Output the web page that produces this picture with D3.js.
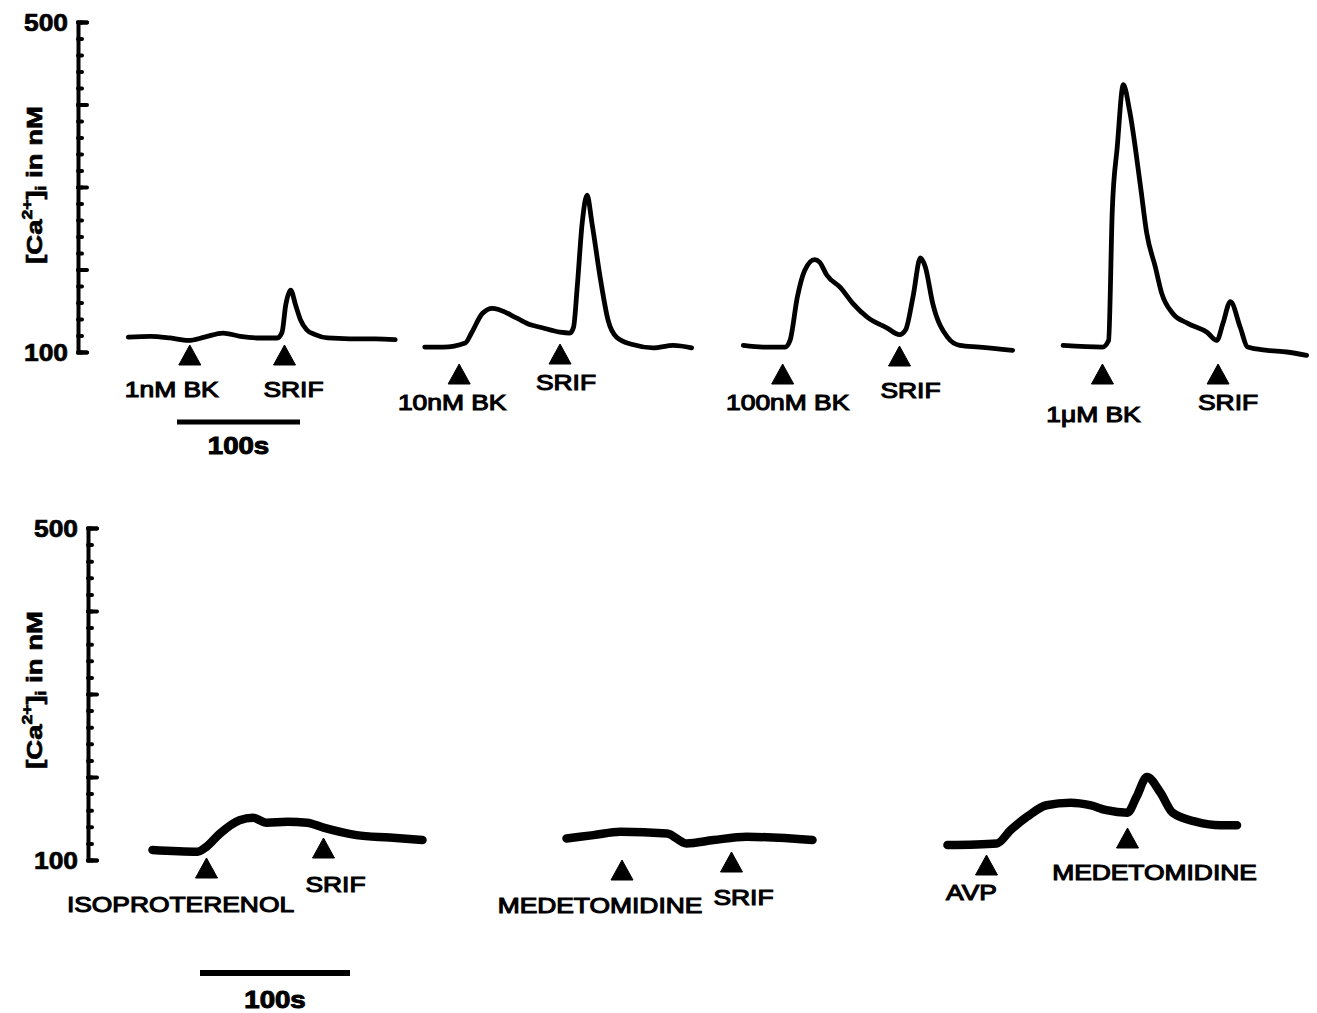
<!DOCTYPE html>
<html>
<head>
<meta charset="utf-8">
<script src="https://cdn.jsdelivr.net/npm/d3@7"></script>
<style>
  body { margin: 0; background: #fff; }
  svg { display: block; }
  text { font-family: Arial, "Liberation Sans", Helvetica, sans-serif; fill: #000; }
</style>
</head>
<body>
<svg id="chart" width="1317" height="1013"></svg>
<script>
// ---- data: traces as [time (s), [Ca2+]i (nM)] ----
var traceBk1 = [[23,118],[41,119],[57,117],[72,114],[85,118],[100,123],[114,119],[130,117],[144,117],
  [148,124],[151,157],[155,175],[159,157],[163,139],[168,127],[175,121],[185,117],[203,116],[224,116],[240,115]];
var traceBk10 = [[264,106],[279,106],[297,111],[302,123],[311,147],[319,153],[325,151],[339,141],[350,133],
  [358,130],[374,124],[382,123],[385,130],[388,179],[392,256],[396,290],[400,256],[407,187],[413,139],
  [420,118],[433,109],[450,105],[466,108],[481,105]];
var traceBk100 = [[523,108],[539,106],[557,106],[561,114],[567,167],[573,199],[581,212],[585,209],[591,193],
  [602,178],[612,159],[624,142],[640,129],[650,121],[655,127],[661,167],[667,214],[671,203],[677,159],
  [689,118],[699,108],[715,106],[742,102]];
var traceBk1000 = [[783,108],[815,106],[820,114],[823,272],[827,348],[832,424],[837,393],[846,300],[851,244],
  [858,203],[863,172],[872,147],[884,135],[900,124],[908,114],[913,135],[919,161],[927,130],[933,106],
  [949,102],[965,100],[981,96]];

var traceIso = [[35,112],[65,110],[71,116],[80,132],[93,148],[102,151],[111,145],[125,146],[138,145],
  [149,139],[171,130],[193,127],[215,124]];
var traceMed = [[311,126],[329,130],[347,134],[378,132],[391,120],[409,124],[431,128],[475,124]];
var traceAvp = [[565,118],[598,120],[607,136],[618,152],[631,166],[647,169],[660,166],[671,160],[685,157],
  [691,176],[698,200],[707,181],[715,157],[731,146],[747,142],[758,142]];

// stimulus markers (label + time of addition, s)
var topLabels = ["1nM BK", "SRIF", "10nM BK", "SRIF", "100nM BK", "SRIF", "1\u03bcM BK", "SRIF"];
var topTimes = [73, 150, 292, 374, 555, 650, 815, 909];
var botLabels = ["ISOPROTERENOL", "SRIF", "MEDETOMIDINE", "SRIF", "AVP", "MEDETOMIDINE"];
var botTimes = [71, 149, 348, 421, 591, 685];

var yTicks = [100, 200, 300, 400, 500];
var yMinorTicks = d3.range(100, 501, 20);
var yTickLabels = ["100", "500"];
var scaleBarSeconds = 100;

// ---- layout (pixels) ----
var layout = {
  top: { axisX: 78, yRange: [352, 22], xRange: [100, 1330], lineW: 4.8,
         arrowTop: [345, 345, 364, 344, 364, 346, 364, 364],
         labelDx: [-18, 9, -7, 6, 5, 11, -9, 10],
         labelY: [397, 397, 410, 390, 410, 398, 422, 410],
         barX: 177, barY: 422, barW: 5, barTextY: 454, yLabelCy: 185 },
  bot: { axisX: 88, yRange: [860, 528], xRange: [100, 1600], lineW: 8.5,
         arrowTop: [858, 838, 860, 852, 855, 828],
         labelDx: [-26, 12, -22, 12, -15, 27],
         labelY: [912, 892, 913, 905, 900, 880],
         barX: 200, barY: 973, barW: 6, barTextY: 1008, yLabelCy: 690 }
};

var svg = d3.select("#chart");

function stretchText(g, x, y, str, size, weight, sx, anchor, sw) {
  return g.append("text")
    .attr("transform", "translate(" + x + "," + y + ") scale(" + sx + ",1)")
    .attr("text-anchor", anchor || "middle")
    .style("font-size", size + "px")
    .style("font-weight", weight)
    .style("stroke", "#000")
    .style("stroke-width", sw)
    .text(str);
}

function drawPanel(cfg, traces, labels, times) {
  var g = svg.append("g");
  var y = d3.scaleLinear().domain([100, 500]).range(cfg.yRange);
  var x = d3.scaleLinear().domain([0, 1000]).range(cfg.xRange);

  // y axis: minor ticks, then major ticks with outer ends
  var minor = g.append("g").attr("transform", "translate(" + cfg.axisX + ",0)")
    .call(d3.axisRight(y).tickValues(yMinorTicks).tickSize(4).tickSizeOuter(0).tickFormat(""));
  g.append("g").attr("transform", "translate(" + cfg.axisX + ",0)")
    .call(d3.axisRight(y).tickValues(yTicks).tickSize(9).tickSizeOuter(9).tickFormat(""));
  g.selectAll(".domain, .tick line")
    .attr("stroke", "#000").attr("stroke-width", 4).attr("stroke-linecap", "round");
  minor.select(".domain").remove();

  yTickLabels.forEach(function (t) {
    stretchText(g, cfg.axisX - 10, y(+t) + 9, t, 24, "bold", 1.1, "end", 0.7);
  });

  // y axis title
  var title = g.append("text")
    .attr("transform", "translate(42," + cfg.yLabelCy + ") rotate(-90) scale(1.25,1)")
    .attr("text-anchor", "middle")
    .style("font-size", "22px").style("font-weight", "bold")
    .style("stroke", "#000").style("stroke-width", 0.7);
  title.append("tspan").text("[Ca");
  title.append("tspan").attr("dy", -10).style("font-size", "14px").text("2+");
  title.append("tspan").attr("dy", 10).text("]");
  title.append("tspan").attr("dy", 4).style("font-size", "14px").text("i");
  title.append("tspan").attr("dy", -4).text(" in nM");

  var line = d3.line()
    .curve(d3.curveMonotoneX)
    .x(function (d) { return x(d[0]); })
    .y(function (d) { return y(d[1]); });
  traces.forEach(function (tr) {
    g.append("path").datum(tr)
      .attr("d", line)
      .attr("fill", "none").attr("stroke", "#000")
      .attr("stroke-width", cfg.lineW)
      .attr("stroke-linejoin", "round").attr("stroke-linecap", "round");
  });

  // stimulus arrowheads and labels
  times.forEach(function (t, i) {
    var ax = x(t), top = cfg.arrowTop[i];
    g.append("path")
      .attr("d", "M" + ax + "," + top + "L" + (ax + 11) + "," + (top + 20) + "L" + (ax - 11) + "," + (top + 20) + "Z")
      .attr("fill", "#000").attr("stroke", "#000").attr("stroke-width", 1).attr("stroke-linejoin", "round");
    stretchText(g, ax + cfg.labelDx[i], cfg.labelY[i], labels[i], 22, "normal", 1.2, "middle", 1.1);
  });

  // time scale bar
  var barLen = x(scaleBarSeconds) - x(0);
  g.append("line")
    .attr("x1", cfg.barX).attr("x2", cfg.barX + barLen)
    .attr("y1", cfg.barY).attr("y2", cfg.barY)
    .attr("stroke", "#000").attr("stroke-width", cfg.barW);
  stretchText(g, cfg.barX + barLen / 2, cfg.barTextY, scaleBarSeconds + "s", 24, "bold", 1.15, "middle", 1);
}

drawPanel(layout.top, [traceBk1, traceBk10, traceBk100, traceBk1000], topLabels, topTimes);
drawPanel(layout.bot, [traceIso, traceMed, traceAvp], botLabels, botTimes);
</script>
</body>
</html>
